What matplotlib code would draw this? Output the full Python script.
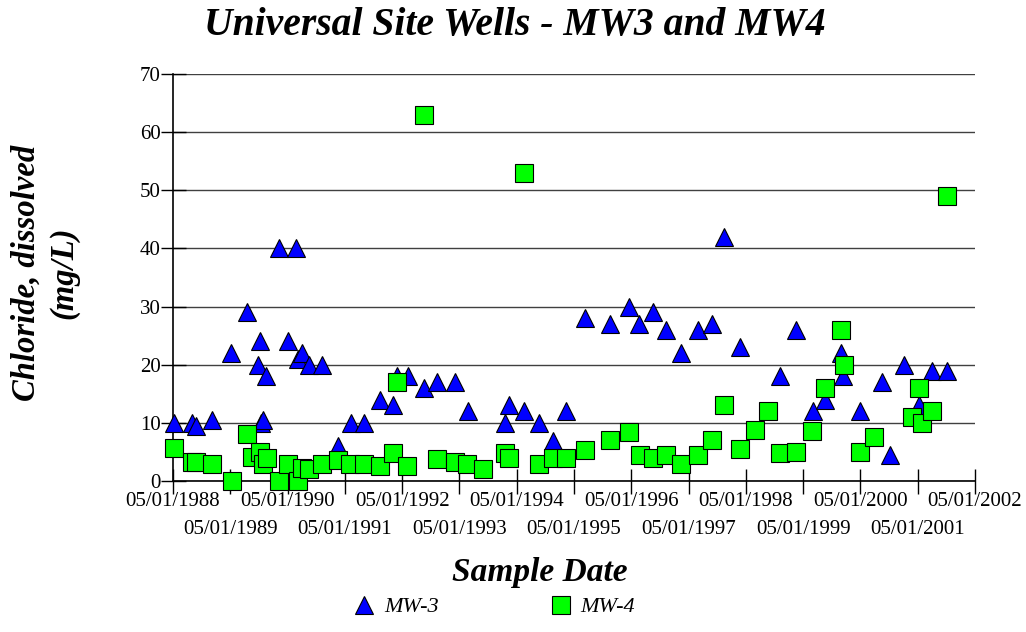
import matplotlib
matplotlib.use("Agg")
import matplotlib.pyplot as plt
import matplotlib.dates as mdates
from matplotlib.ticker import FixedLocator
import pandas as pd

title = "Universal Site Wells - MW3 and MW4"
y_label = "Chloride, dissolved\n(mg/L)"
x_label = "Sample Date"

mw3_dates = ["1988-05-07", "1988-09-01", "1988-09-25", "1989-01-06", "1989-05-07",
             "1989-08-15", "1989-10-22", "1989-11-09", "1989-11-15", "1989-11-28",
             "1989-12-16", "1990-03-10", "1990-05-04", "1990-06-22", "1990-07-10",
             "1990-08-01", "1990-09-12", "1990-12-07", "1991-03-21", "1991-06-09",
             "1991-09-03", "1991-12-13", "1992-03-04", "1992-03-28", "1992-06-06",
             "1992-09-15", "1992-12-07", "1993-04-01", "1993-06-22", "1994-02-15",
             "1994-03-10", "1994-06-15", "1994-09-19", "1994-12-20", "1995-03-14",
             "1995-07-13", "1995-12-15", "1996-04-13", "1996-06-19", "1996-09-19",
             "1996-12-05", "1997-03-16", "1997-06-28", "1997-09-27", "1997-12-10",
             "1998-03-22", "1998-12-06", "1999-03-16", "1999-07-01", "1999-09-19",
             "1999-12-29", "2000-01-13", "2000-04-29", "2000-09-16", "2000-11-07",
             "2001-02-01", "2001-05-08", "2001-08-01", "2001-11-01"]
mw3_values = [10, 10, 9.5, 10.5, 22,
              29, 20, 24, 10, 10.5,
              18, 40, 24, 40, 21,
              22, 20, 20, 6, 10,
              10, 14, 13, 18, 18,
              16, 17, 17, 12, 10,
              13, 12, 10, 6.8, 12,
              28, 27, 30, 27, 29,
              26, 22, 26, 27, 42,
              23, 18, 26, 12, 14,
              22, 18, 12, 17, 4.5,
              20, 13, 19, 19]

mw4_dates = ["1988-05-09", "1988-08-28", "1988-09-25", "1989-01-07", "1989-05-10",
             "1989-08-15", "1989-09-15", "1989-11-09", "1989-11-28", "1989-12-21",
             "1990-03-07", "1990-05-04", "1990-07-10", "1990-08-01", "1990-09-12",
             "1990-12-07", "1991-03-21", "1991-06-04", "1991-09-03", "1991-12-13",
             "1992-03-04", "1992-03-28", "1992-06-01", "1992-09-15", "1992-12-07",
             "1993-04-01", "1993-06-19", "1993-10-01", "1994-02-13", "1994-03-15",
             "1994-06-15", "1994-09-19", "1994-12-20", "1995-03-14", "1995-07-13",
             "1995-12-15", "1996-04-13", "1996-06-24", "1996-09-19", "1996-12-05",
             "1997-03-16", "1997-06-28", "1997-09-27", "1997-12-10", "1998-03-22",
             "1998-06-28", "1998-09-19", "1998-12-06", "1999-03-16", "1999-06-28",
             "1999-09-19", "1999-12-29", "2000-01-16", "2000-04-29", "2000-07-25",
             "2001-03-25", "2001-05-08", "2001-05-25", "2001-08-01", "2001-11-01"]
mw4_values = [5.6, 3.3, 3.3, 3, 0,
              8, 4.2, 5, 3, 4,
              0, 3, 0, 2.2, 2,
              3, 3.6, 3, 3, 2.6,
              4.9, 17, 2.6, 63, 3.8,
              3.2, 3, 2, 4.9, 4,
              53, 3, 4, 4, 5.3,
              7, 8.5, 4.4, 4, 4.4,
              2.9, 4.4, 7, 13, 5.5,
              8.7, 12, 4.9, 5, 8.6,
              16, 26, 20, 5, 7.5,
              11, 16, 10, 12, 49]

tick_dates = ["1988-05-01", "1989-05-01", "1990-05-01", "1991-05-01", "1992-05-01",
              "1993-05-01", "1994-05-01", "1995-05-01", "1996-05-01", "1997-05-01",
              "1998-05-01", "1999-05-01", "2000-05-01", "2001-05-01", "2002-05-01"]
tick_labels = ["05/01/1988", "05/01/1989", "05/01/1990", "05/01/1991", "05/01/1992",
               "05/01/1993", "05/01/1994", "05/01/1995", "05/01/1996", "05/01/1997",
               "05/01/1998", "05/01/1999", "05/01/2000", "05/01/2001", "05/01/2002"]
y_ticks = [0, 10, 20, 30, 40, 50, 60, 70]

plt.rcParams['font.family'] = ['Liberation Serif', 'DejaVu Serif']

fig = plt.figure(figsize=(10.26, 6.32), dpi=100)
ax = fig.add_axes([173/1026, 1-481/632, (975-173)/1026, (481-74)/632])

d3 = pd.to_datetime(mw3_dates)
d4 = pd.to_datetime(mw4_dates)
ax.plot(d3, mw3_values, linestyle='none', marker='^', markersize=13.5,
        markerfacecolor='#0000FF', markeredgecolor='black', markeredgewidth=0.8,
        label='MW-3', zorder=3, clip_on=False)
ax.plot(d4, mw4_values, linestyle='none', marker='s', markersize=13.5,
        markerfacecolor='#00FF00', markeredgecolor='black', markeredgewidth=0.8,
        label='MW-4', zorder=4, clip_on=False)

td = pd.to_datetime(tick_dates)
tnum = mdates.date2num(td)
ax.set_xlim(tnum[0], tnum[-1])
ax.set_ylim(0, 70)

major = [t for i, t in enumerate(tnum) if i % 2 == 0]
minor = [t for i, t in enumerate(tnum) if i % 2 == 1]
ax.xaxis.set_major_locator(FixedLocator(major))
ax.xaxis.set_minor_locator(FixedLocator(minor))
ax.set_xticklabels([l for i, l in enumerate(tick_labels) if i % 2 == 0])
ax.set_xticklabels([l for i, l in enumerate(tick_labels) if i % 2 == 1], minor=True)
ax.tick_params(axis='x', which='both', direction='inout', length=18, width=1,
               labelsize=15, colors='black')
ax.tick_params(axis='x', which='major', pad=-1)
ax.tick_params(axis='x', which='minor', pad=19)

ax.set_yticks(y_ticks)
ax.tick_params(axis='y', direction='inout', length=18, width=1, labelsize=15, pad=0)

ax.grid(axis='y', color='#404040', linewidth=1)
ax.set_axisbelow(True)
for s in ['top', 'right']:
    ax.spines[s].set_visible(False)
ax.spines['left'].set_linewidth(1.2)
ax.spines['bottom'].set_linewidth(1.2)

fig.text(515/1026, 1-25/632, title, ha='center', va='center', fontsize=28.5,
         fontweight='bold', fontstyle='italic')
fig.text(45/1026, 1-273/632, y_label, ha='center', va='center', rotation=90,
         fontsize=23.5, fontweight='bold', fontstyle='italic', linespacing=1.25)
fig.text(540/1026, 1-572/632, x_label, ha='center', va='center', fontsize=24,
         fontweight='bold', fontstyle='italic')

fig.legend(loc='center', bbox_to_anchor=(494/1026, 1-607/632), ncol=2,
           frameon=False, prop={'style': 'italic', 'size': 16}, markerscale=1.0,
           handlelength=1.0, handletextpad=0.4, columnspacing=5.0)

fig.savefig('out.png', dpi=100)
